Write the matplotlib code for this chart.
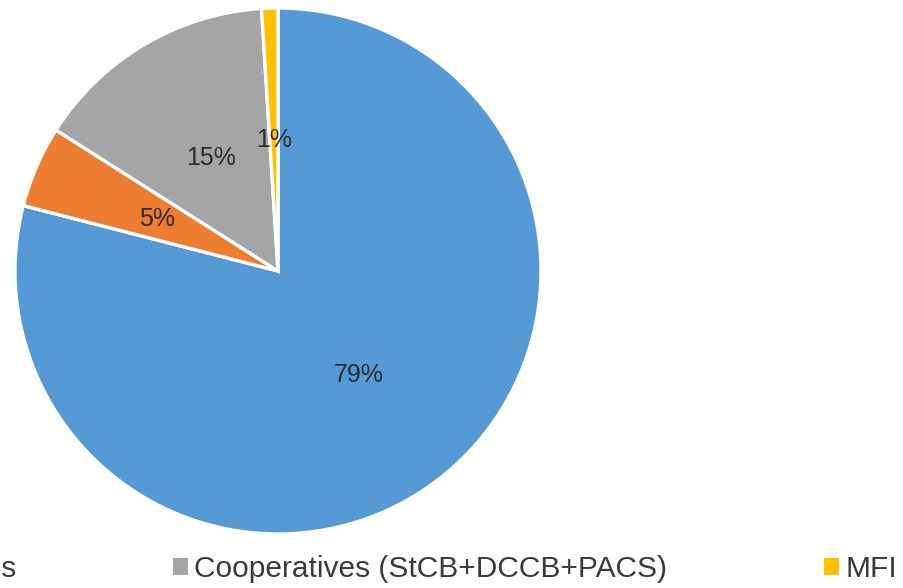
import matplotlib
matplotlib.use("Agg")
import matplotlib.pyplot as plt
from matplotlib.patches import Patch

# Share of institutions (%)
categories = ["Commercial Banks", "RRBs", "Cooperatives (StCB+DCCB+PACS)", "MFI"]
shares = [79, 5, 15, 1]
colors = ["#5599D5", "#ED7D31", "#A5A5A5", "#FFC000"]

plt.rcParams["font.family"] = ["Liberation Sans", "DejaVu Sans"]

W, H = 904, 588
fig = plt.figure(figsize=(W / 100, H / 100), dpi=100)
fig.patch.set_facecolor("white")

ax = fig.add_axes([15 / W, 54 / H, 526 / W, 526 / H])
wedges, texts, autotexts = ax.pie(
    shares,
    colors=colors,
    startangle=90,
    counterclock=False,
    autopct="%.0f%%",
    pctdistance=0.5,
    radius=1.0,
    wedgeprops=dict(edgecolor="white", linewidth=2.4),
    textprops=dict(fontsize=18, color="#2b2b2b"),
)
ax.set_xlim(-1.0, 1.0)
ax.set_ylim(-1.0, 1.0)
ax.set_aspect("equal")
ax.axis("off")

fs_pt = 21.5
fs_px = fs_pt * 100 / 72
handles = [Patch(facecolor=c, edgecolor="none") for c in colors]
fig.legend(
    handles,
    categories,
    loc="center right",
    bbox_to_anchor=(897 / W, (H - 569) / H),
    ncol=4,
    frameon=False,
    fontsize=fs_pt,
    labelcolor="#3a3a3a",
    borderpad=0,
    borderaxespad=0,
    handlelength=15 / fs_px,
    handleheight=15 / fs_px,
    handletextpad=6 / fs_px,
    columnspacing=157 / fs_px,
)

fig.savefig("out.png", dpi=100, facecolor="white")
